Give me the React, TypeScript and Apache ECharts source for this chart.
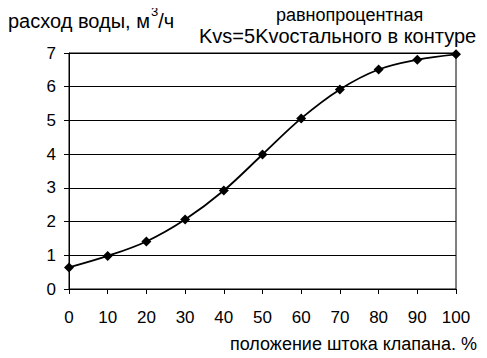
import React, { useEffect, useRef } from "react";
import * as echarts from "echarts";

const xValues = [0, 10, 20, 30, 40, 50, 60, 70, 80, 90, 100];
const flowValues = [0.64, 0.98, 1.41, 2.06, 2.92, 3.99, 5.06, 5.92, 6.51, 6.8, 6.96];
const titleLines = ["равнопроцентная", "Kvs=5Kvостального в контуре"];
const yAxisName = ["расход воды, м", "3", "/ч"];
const xAxisName = "положение штока клапана, %";

const FONT = "'Liberation Sans', Arial, sans-serif";

export default function App() {
  const ref = useRef<HTMLDivElement>(null);
  useEffect(() => {
    if (!ref.current) return;
    const chart = echarts.init(ref.current, null, { renderer: "svg" });
    chart.setOption({
      animation: false,
      backgroundColor: "#ffffff",
      textStyle: { fontFamily: FONT },
      grid: {
        left: 69,
        right: 31,
        top: 53,
        bottom: 69,
        show: true,
        borderColor: "#000",
        borderWidth: 1,
        backgroundColor: "transparent",
      },
      graphic: [
        {
          type: "text",
          left: 8,
          top: 5,
          style: {
            text: `{a|${yAxisName[0]}}{s|${yAxisName[1]}}{a|${yAxisName[2]}}`,
            fill: "#000",
            rich: {
              a: { fontFamily: FONT, fontSize: 20, fill: "#000", lineHeight: 26, verticalAlign: "bottom" },
              s: { fontFamily: FONT, fontSize: 13, fill: "#000", lineHeight: 13, verticalAlign: "top", padding: [0, 0, 0, 1] },
            },
          },
        },
        {
          type: "text",
          left: 350 - 74,
          top: 6,
          style: { text: titleLines[0], font: `18px ${FONT}`, fill: "#000" },
        },
        {
          type: "text",
          left: 199,
          top: 26,
          style: { text: titleLines[1], font: `20px ${FONT}`, fill: "#000" },
        },
        {
          type: "text",
          right: 10,
          top: 335,
          style: { text: xAxisName, font: `18px ${FONT}`, fill: "#000" },
        },
      ],
      xAxis: {
        type: "value",
        min: 0,
        max: 100,
        interval: 10,
        axisLine: { show: true, lineStyle: { color: "#000", width: 1 } },
        axisTick: { show: true, length: 5, lineStyle: { color: "#000" } },
        axisLabel: { color: "#000", fontSize: 17, fontFamily: FONT, margin: 20 },
        splitLine: { show: false },
      },
      yAxis: {
        type: "value",
        min: 0,
        max: 7,
        interval: 1,
        axisLine: { show: true, lineStyle: { color: "#000", width: 1 } },
        axisTick: { show: true, length: 5, lineStyle: { color: "#000" } },
        axisLabel: { color: "#000", fontSize: 17, fontFamily: FONT, margin: 13 },
        splitLine: { show: true, lineStyle: { color: "#000", width: 1 } },
      },
      series: [
        {
          type: "line",
          data: xValues.map((x, i) => [x, flowValues[i]]),
          smooth: 0.35,
          symbol: "diamond",
          symbolSize: 10,
          lineStyle: { color: "#000", width: 1.8 },
          itemStyle: { color: "#000" },
        },
      ],
    });
    return () => chart.dispose();
  }, []);
  return <div ref={ref} style={{ width: 487, height: 358, margin: -8 }} />;
}
